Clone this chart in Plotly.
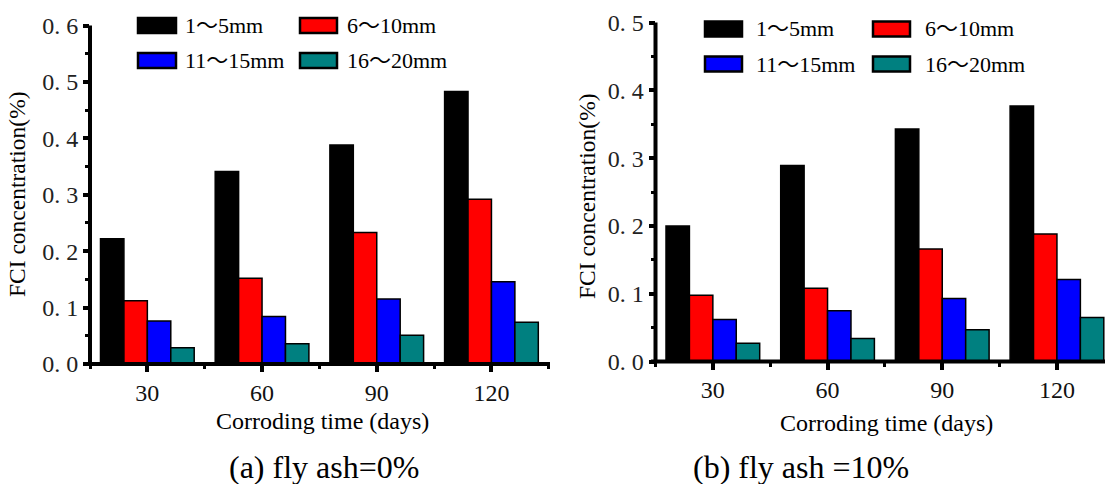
import plotly.graph_objects as go

W, H = 1105, 484

# Categories and series
days = ["30", "60", "90", "120"]
sizes = ["1～5mm", "6～10mm", "11～15mm", "16～20mm"]
colors = ["#000000", "#ff0000", "#0000ff", "#008080"]

# fly ash = 0 %
ash0_1_5 = [0.222, 0.341, 0.388, 0.483]
ash0_6_10 = [0.112, 0.152, 0.233, 0.292]
ash0_11_15 = [0.076, 0.084, 0.115, 0.146]
ash0_16_20 = [0.029, 0.036, 0.051, 0.074]

# fly ash = 10 %
ash10_1_5 = [0.200, 0.289, 0.343, 0.377]
ash10_6_10 = [0.098, 0.108, 0.166, 0.188]
ash10_11_15 = [0.062, 0.075, 0.093, 0.121]
ash10_16_20 = [0.027, 0.034, 0.047, 0.065]

yticks_a = [0.0, 0.1, 0.2, 0.3, 0.4, 0.5, 0.6]
yticks_b = [0.0, 0.1, 0.2, 0.3, 0.4, 0.5]

x_title = "Corroding time (days)"
y_title = "FCI concentration(%)"
caption_a = "(a) fly ash=0%"
caption_b = "(b) fly ash =10%"

SERIF = "Liberation Serif, Times New Roman, Noto Sans CJK SC, serif"
AXIS_W = 4


def px(x):
    return x / W


def py(y):
    return 1 - y / H


idx = list(range(len(days)))

fig = go.Figure()
panels = [
    ("x", "y", [ash0_1_5, ash0_6_10, ash0_11_15, ash0_16_20]),
    ("x2", "y2", [ash10_1_5, ash10_6_10, ash10_11_15, ash10_16_20]),
]
for xa, ya, series in panels:
    for name, vals, col in zip(sizes, series, colors):
        fig.add_trace(go.Bar(
            x=idx, y=vals, name=name, xaxis=xa, yaxis=ya,
            marker=dict(color=col, line=dict(color="#000000", width=1.5)),
            showlegend=False,
        ))


def tick_text(v):
    return f"{v:.1f}".replace(".", ". ")


def x_axis(domain, rng, anchor):
    return dict(
        domain=domain, range=rng, anchor=anchor, automargin=False,
        tickvals=idx, ticktext=days,
        ticks="outside", ticklen=7, tickwidth=4, tickcolor="#000",
        showline=False, showgrid=False, zeroline=False,
        tickfont=dict(family=SERIF, size=24, color="#111"),
        minor=dict(tickvals=[-0.5, 0.5, 1.5, 2.5, 3.5], ticks="outside",
                   ticklen=4, tickwidth=3, tickcolor="#000"),
        fixedrange=True,
    )


def y_axis(domain, ticks, anchor):
    top = ticks[-1]
    return dict(
        domain=domain, range=[0, top], anchor=anchor, automargin=False,
        tickvals=ticks, ticktext=[tick_text(v) for v in ticks],
        ticks="outside", ticklen=6, tickwidth=4, tickcolor="#000",
        showline=False, showgrid=False, zeroline=False,
        tickfont=dict(family=SERIF, size=24, color="#222"),
        minor=dict(tickvals=[t + 0.05 for t in ticks[:-1]], ticks="outside",
                   ticklen=4, tickwidth=3, tickcolor="#000"),
        fixedrange=True,
    )


fig.update_layout(
    width=W, height=H,
    margin=dict(l=0, r=0, t=0, b=0, pad=0, autoexpand=False),
    paper_bgcolor="white", plot_bgcolor="white",
    barmode="group", bargap=0.183, bargroupgap=0,
    xaxis=x_axis([px(90), px(550)], [-0.5, -0.5 + 460 / 114.7], "y"),
    yaxis=y_axis([py(364), py(25.5)], yticks_a, "x"),
    xaxis2=x_axis([px(655.5), 1.0], [-0.5, -0.5 + (W - 655.5) / 114.7], "y2"),
    yaxis2=y_axis([py(361.6), py(22.5)], yticks_b, "x2"),
)

shapes, annots = [], []

# Heavy axis spines along the left and bottom edges of each panel
for xa, ya in (("x", "y"), ("x2", "y2")):
    shapes.append(dict(type="line", xref=f"{xa} domain", yref=f"{ya} domain",
                       x0=0, x1=0, y0=0, y1=1, layer="above",
                       line=dict(color="#000", width=AXIS_W)))
    shapes.append(dict(type="line", xref=f"{xa} domain", yref=f"{ya} domain",
                       x0=-0.01, x1=1, y0=0, y1=0, layer="above",
                       line=dict(color="#000", width=AXIS_W)))

# Legend blocks drawn as framed swatches with labels
legend_rows = [(18, 33), (53, 68)]
legend_a = [(138, 176, 183), (300, 337, 345)]
legend_b = [(705, 742, 754), (873, 910, 923)]
for cols, dy in ((legend_a, 0), (legend_b, 3.5)):
    for k, (name, col) in enumerate(zip(sizes, colors)):
        r, c = divmod(k, 2)
        x0, x1, xt = cols[c]
        y0, y1 = legend_rows[r]
        y0, y1 = y0 + dy, y1 + dy
        shapes.append(dict(type="rect", xref="paper", yref="paper",
                           x0=px(x0), x1=px(x1), y0=py(y1), y1=py(y0),
                           fillcolor=col, line=dict(color="#000", width=2.5)))
        annots.append(dict(x=px(xt), y=py((y0 + y1) / 2), xref="paper", yref="paper",
                           text=name, showarrow=False, xanchor="left", yanchor="middle",
                           font=dict(family=SERIF, size=22, color="#000")))

# Axis titles and captions
for xc, yc, txt in [(322, 421, x_title), (886, 423, x_title)]:
    annots.append(dict(x=px(xc), y=py(yc), xref="paper", yref="paper", text=txt,
                       showarrow=False, xanchor="center", yanchor="middle",
                       font=dict(family=SERIF, size=24, color="#000")))
for xc, yc in [(17, 194), (587, 196)]:
    annots.append(dict(x=px(xc), y=py(yc), xref="paper", yref="paper", text=y_title,
                       showarrow=False, xanchor="center", yanchor="middle", textangle=-90,
                       font=dict(family=SERIF, size=23.5, color="#000")))
for xc, txt in [(324, caption_a), (801, caption_b)]:
    annots.append(dict(x=px(xc), y=py(467), xref="paper", yref="paper", text=txt,
                       showarrow=False, xanchor="center", yanchor="middle",
                       font=dict(family=SERIF, size=32, color="#000")))

fig.update_layout(shapes=shapes, annotations=annots)
fig.write_html("out.html")
